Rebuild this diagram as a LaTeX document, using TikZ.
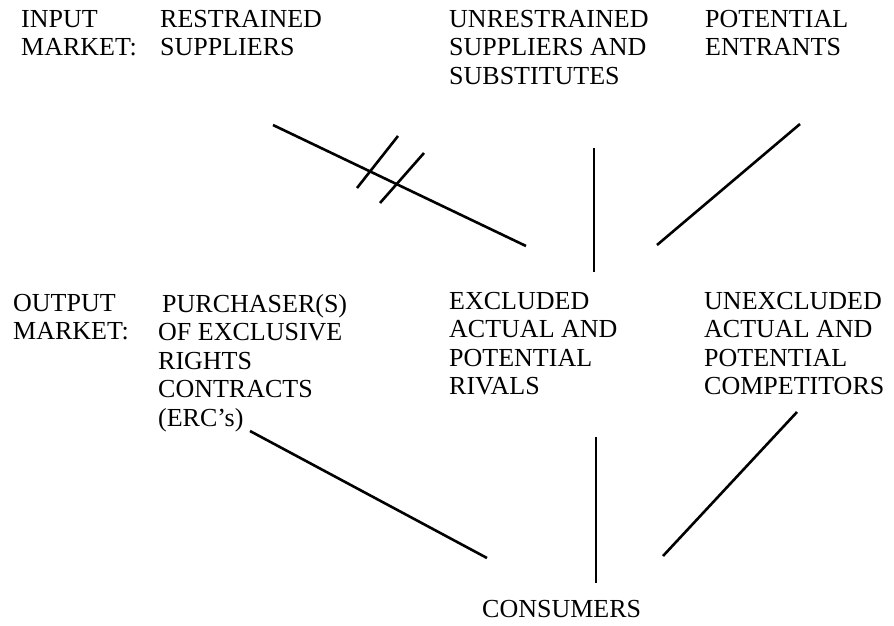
\documentclass[tikz,border=0pt]{standalone}
\usepackage{fontspec}
\setmainfont{Liberation Serif}
\begin{document}
\begin{tikzpicture}[x=1pt,y=-1pt,
  lbl/.style={anchor=north west,inner sep=0pt,align=left,
    font=\fontsize{26}{28.5}\selectfont},
  link/.style={line width=2.6pt,black}]
\useasboundingbox[fill=white] (0,0) rectangle (894,625);
% text
\node[lbl] (inL) at (21,10) {INPUT\\MARKET:};
\node[lbl] (rs) at (160,10) {RESTRAINED\\SUPPLIERS};
\node[lbl] (us) at (449,10) {UNRESTRAINED\\SUPPLIERS AND\\SUBSTITUTES};
\node[lbl] (pe) at (705,10) {POTENTIAL\\ENTRANTS};
\node[lbl] (outL) at (13,294) {OUTPUT\\MARKET:};
\node[lbl] (erc) at (158,294) {\hspace*{4pt}PURCHASER(S)\\OF EXCLUSIVE\\RIGHTS\\CONTRACTS\\(ERC’s)};
\node[lbl] (ex) at (449,292) {EXCLUDED\\ACTUAL AND\\POTENTIAL\\RIVALS};
\node[lbl] (unex) at (704,292) {UNEXCLUDED\\ACTUAL AND\\POTENTIAL\\COMPETITORS};
\node[lbl] (cons) at (482,600) {CONSUMERS};
% connector end points
\coordinate (a1) at (273,125); \coordinate (a2) at (526,246);
\coordinate (h1a) at (357,188); \coordinate (h1b) at (398,136);
\coordinate (h2a) at (380,203); \coordinate (h2b) at (424,153);
\coordinate (b1) at (594,148); \coordinate (b2) at (594,272);
\coordinate (c1) at (800,124); \coordinate (c2) at (657,245);
\coordinate (d1) at (250,431); \coordinate (d2) at (487,558);
\coordinate (e1) at (596,437); \coordinate (e2) at (596,583);
\coordinate (f1) at (797,412); \coordinate (f2) at (663,556);
% connectors
\draw[link] (a1) -- (a2);
\draw[link] (h1a) -- (h1b);
\draw[link] (h2a) -- (h2b);
\draw[link] (b1) -- (b2);
\draw[link] (c1) -- (c2);
\draw[link] (d1) -- (d2);
\draw[link] (e1) -- (e2);
\draw[link] (f1) -- (f2);
\end{tikzpicture}
\end{document}
